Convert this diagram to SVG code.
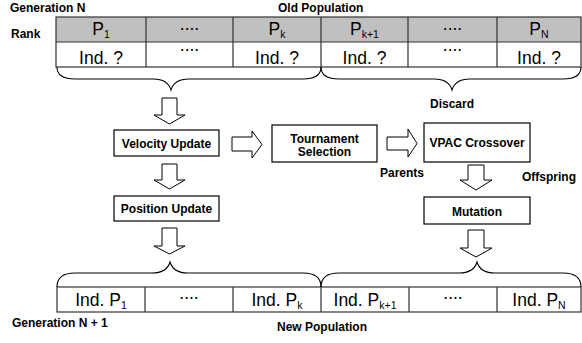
<svg xmlns="http://www.w3.org/2000/svg" width="582" height="343" viewBox="0 0 582 343">
  <style>
    .lbl { font-family: "Liberation Sans", Arial, sans-serif; font-weight: bold; font-size: 12px; fill: #000; }
    .cell { font-family: "Liberation Sans", Arial, sans-serif; font-size: 17.5px; fill: #000; }
    .sub { font-size: 10.5px; }
    .grid { fill: none; stroke: #333; stroke-width: 1.2; }
    .hdr { fill: #c0c0c0; stroke: none; }
    .box { fill: #fff; stroke: #000; stroke-width: 1.2; }
    .blk { fill: #fff; stroke: #000; stroke-width: 1; }
    .brace { fill: none; stroke: #000; stroke-width: 1.1; }
  </style>

  <rect width="582" height="343" fill="#fff"/>

  <!-- labels -->
  <text class="lbl" x="10" y="12">Generation N</text>
  <text class="lbl" x="278" y="12">Old Population</text>
  <text class="lbl" x="11" y="38">Rank</text>
  <text class="lbl" x="452" y="108" text-anchor="middle">Discard</text>
  <text class="lbl" x="402" y="177" text-anchor="middle">Parents</text>
  <text class="lbl" x="549" y="181" text-anchor="middle">Offspring</text>
  <text class="lbl" x="12" y="327">Generation N + 1</text>
  <text class="lbl" x="277" y="331">New Population</text>

  <!-- old population table -->
  <g id="old-population">
    <rect class="hdr" x="56" y="17" width="525" height="25"/>
    <rect class="grid" x="56" y="17" width="525" height="50"/>
    <path class="grid" d="M56,42 H581 M146,17 V67 M233,17 V67 M321,17 V67 M408,17 V67 M497,17 V67"/>
    <text class="cell" x="101" y="35" text-anchor="middle">P<tspan class="sub" dy="3">1</tspan></text>
    <text class="cell" x="189.5" y="29.5" text-anchor="middle">....</text>
    <text class="cell" x="277" y="35" text-anchor="middle">P<tspan class="sub" dy="3">k</tspan></text>
    <text class="cell" x="364.5" y="35" text-anchor="middle">P<tspan class="sub" dy="3">k+1</tspan></text>
    <text class="cell" x="452.5" y="29.5" text-anchor="middle">....</text>
    <text class="cell" x="539" y="35" text-anchor="middle">P<tspan class="sub" dy="3">N</tspan></text>
    <text class="cell" x="101" y="64" text-anchor="middle">Ind. ?</text>
    <text class="cell" x="189.5" y="50.5" text-anchor="middle">....</text>
    <text class="cell" x="277" y="64" text-anchor="middle">Ind. ?</text>
    <text class="cell" x="364.5" y="64" text-anchor="middle">Ind. ?</text>
    <text class="cell" x="452.5" y="50.5" text-anchor="middle">....</text>
    <text class="cell" x="539" y="64" text-anchor="middle">Ind. ?</text>
  </g>

  <!-- new population table -->
  <g id="new-population">
    <rect class="grid" x="57" y="287" width="524" height="25"/>
    <path class="grid" d="M145,287 V312 M233,287 V312 M321,287 V312 M409,287 V312 M497,287 V312"/>
    <text class="cell" x="101" y="306" text-anchor="middle">Ind. P<tspan class="sub" dy="3">1</tspan></text>
    <text class="cell" x="189" y="299" text-anchor="middle">....</text>
    <text class="cell" x="277" y="306" text-anchor="middle">Ind. P<tspan class="sub" dy="3">k</tspan></text>
    <text class="cell" x="365" y="306" text-anchor="middle">Ind. P<tspan class="sub" dy="3">k+1</tspan></text>
    <text class="cell" x="453" y="299" text-anchor="middle">....</text>
    <text class="cell" x="539" y="306" text-anchor="middle">Ind. P<tspan class="sub" dy="3">N</tspan></text>
  </g>

  <!-- process steps -->
  <g id="velocity-update">
    <rect class="box" x="114" y="130" width="105" height="26"/>
    <text class="lbl" x="166.5" y="147.5" text-anchor="middle">Velocity Update</text>
  </g>
  <g id="position-update">
    <rect class="box" x="114" y="196" width="105" height="25"/>
    <text class="lbl" x="166.5" y="213" text-anchor="middle">Position Update</text>
  </g>
  <g id="tournament-selection">
    <rect class="box" x="272" y="125" width="105" height="37"/>
    <text class="lbl" x="324.5" y="142.5" text-anchor="middle">Tournament</text>
    <text class="lbl" x="324.5" y="156" text-anchor="middle">Selection</text>
  </g>
  <g id="vpac-crossover">
    <rect class="box" x="424" y="123" width="106" height="39"/>
    <text class="lbl" x="477" y="147" text-anchor="middle">VPAC Crossover</text>
  </g>
  <g id="mutation">
    <rect class="box" x="424" y="197" width="106" height="27"/>
    <text class="lbl" x="477" y="216" text-anchor="middle">Mutation</text>
  </g>

  <!-- braces and block arrows -->
  <g id="connectors">
    <path class="brace" d="M57,67 C57,75 62,79 75,79 L153,79 C163,79 169,83 171,90 C173,83 179,79 189,79 L303,79 C316,79 321,75 321,67"/>
    <path class="brace" d="M321,67 C321,75 326,79 339,79 L434,79 C444,79 450,83 452,90 C454,83 460,79 470,79 L563,79 C576,79 581,75 581,67"/>
    <path class="brace" d="M57,287 C57,279 62,273 75,273 L152,273 C162,273 168,269 170,262 C172,269 178,273 188,273 L303,273 C316,273 321,279 321,287"/>
    <path class="brace" d="M321,287 C321,279 326,273 339,273 L459,273 C469,273 475,269 477,262 C479,269 485,273 495,273 L563,273 C576,273 581,279 581,287"/>

    <!-- downward block arrows -->
    <path class="blk" d="M162,98 H177 V115 H185 L169.5,124 L154,115 H162 Z"/>
    <path class="blk" d="M162,164 H177 V180 H185 L169.5,189 L154,180 H162 Z"/>
    <path class="blk" d="M162,228 H177 V246 H185 L169.5,254 L154,246 H162 Z"/>
    <path class="blk" d="M468,165 H484 V180 H492 L476,190 L460,180 H468 Z"/>
    <path class="blk" d="M468,230 H484 V248 H492 L476,257 L460,248 H468 Z"/>

    <!-- rightward block arrows -->
    <path class="blk" d="M232,137 V151 H252 V158 L262,144.5 L252,131 V137 Z"/>
    <path class="blk" d="M387,137 V150 H408 V157 L417,143.5 L408,129 V137 Z"/>
  </g>
</svg>
